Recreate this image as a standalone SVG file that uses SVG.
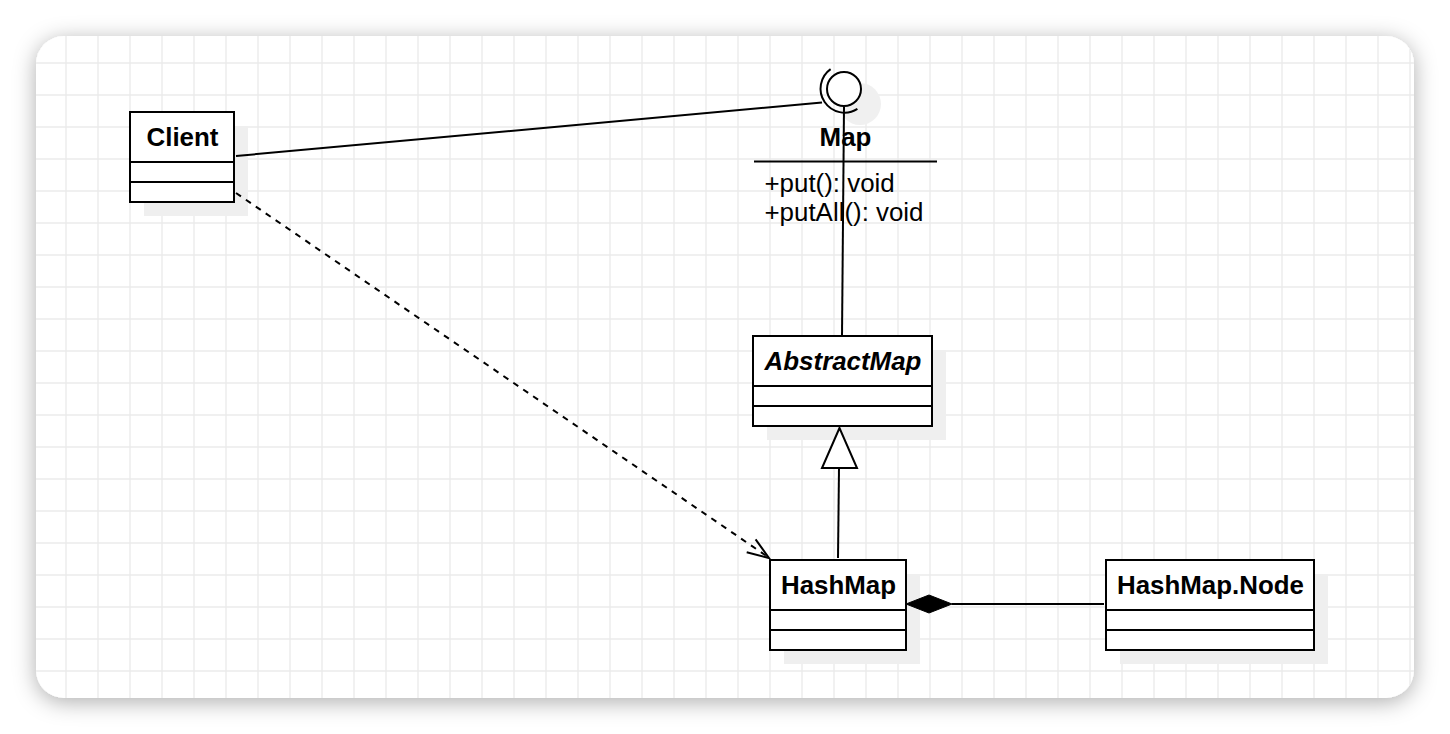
<svg xmlns="http://www.w3.org/2000/svg" width="1450" height="734" viewBox="0 0 1450 734">
<defs>
<style>
.box{fill:#fff;stroke:#000;stroke-width:2}
.sh{fill:#efefef;stroke:none}
.div{stroke:#000;stroke-width:2;fill:none}
.t{font-family:"Liberation Sans",Arial,sans-serif;font-size:25.9px;fill:#000}
.b{font-weight:bold;text-anchor:middle}
.ln{stroke:#000;stroke-width:2;fill:none}
</style>
<filter id="cardShadow" x="-10%" y="-10%" width="120%" height="120%">
<feDropShadow dx="0" dy="4" stdDeviation="11" flood-color="#000" flood-opacity="0.32"/>
</filter>
<pattern id="grid" x="18" y="15" width="32" height="32" patternUnits="userSpaceOnUse">
<path d="M16 0 V32 M0 16 H32" stroke="#ebebeb" stroke-width="1.4" fill="none"/>
</pattern>
<clipPath id="cardClip"><rect x="36" y="36" width="1378" height="662" rx="28"/></clipPath>
</defs>
<rect width="1450" height="734" fill="#fff"/>
<rect x="36" y="36" width="1378" height="662" rx="28" fill="#fff" filter="url(#cardShadow)"/>
<rect x="36" y="36" width="1378" height="662" fill="url(#grid)" clip-path="url(#cardClip)"/>

<g id="client">
<rect class="sh" x="144" y="126" width="104" height="90"/>
<rect class="box" x="130" y="112" width="104" height="90"/>
<path class="div" d="M130 162 H234 M130 182 H234"/>
<text class="t b" x="182.5" y="146">Client</text>
</g>

<g id="map">
<circle cx="860" cy="104" r="21" fill="#f0f0f0"/>
<path class="ln" d="M830.6 69.1 A24 24 0 0 0 857.4 108.9"/>
<circle cx="844" cy="89" r="17" fill="#fff" stroke="#000" stroke-width="2"/>
<text class="t b" x="845.5" y="145.5">Map</text>
<path class="div" d="M754 161.5 H937"/>
<text class="t" x="764.5" y="192">+put(): void</text>
<text class="t" x="764.5" y="221">+putAll(): void</text>
</g>

<g id="abstractmap">
<rect class="sh" x="767" y="350" width="179" height="90"/>
<rect class="box" x="753" y="336" width="179" height="90"/>
<path class="div" d="M753 386 H932 M753 406 H932"/>
<text class="t b" x="843" y="370" font-style="italic">AbstractMap</text>
</g>

<g id="hashmap">
<rect class="sh" x="784" y="574" width="136" height="90"/>
<rect class="box" x="770" y="560" width="136" height="90"/>
<path class="div" d="M770 610 H906 M770 630 H906"/>
<text class="t b" x="838.5" y="593.5">HashMap</text>
</g>

<g id="hashmapnode">
<rect class="sh" x="1120" y="574" width="208" height="90"/>
<rect class="box" x="1106" y="560" width="208" height="90"/>
<path class="div" d="M1106 610 H1314 M1106 630 H1314"/>
<text class="t b" x="1210.5" y="593.5">HashMap.Node</text>
</g>

<g id="connectors">
<path class="ln" d="M236 156 L822 102.5"/>
<path class="ln" d="M844 107 L842 336"/>
<path class="ln" d="M236 193 L768 557" stroke-dasharray="6 6"/>
<path class="ln" d="M746.7 552.3 L769 558 L755.6 539.3"/>
<path class="ln" d="M838 558 L839 468"/>
<polygon points="839.5,428 822,468 857,468" fill="#fff" stroke="#000" stroke-width="2"/>
<polygon points="906,604 929,595 952,604 929,613" fill="#000" stroke="#000" stroke-width="1"/>
<path class="ln" d="M952 604 L1104 604"/>
</g>
</svg>
